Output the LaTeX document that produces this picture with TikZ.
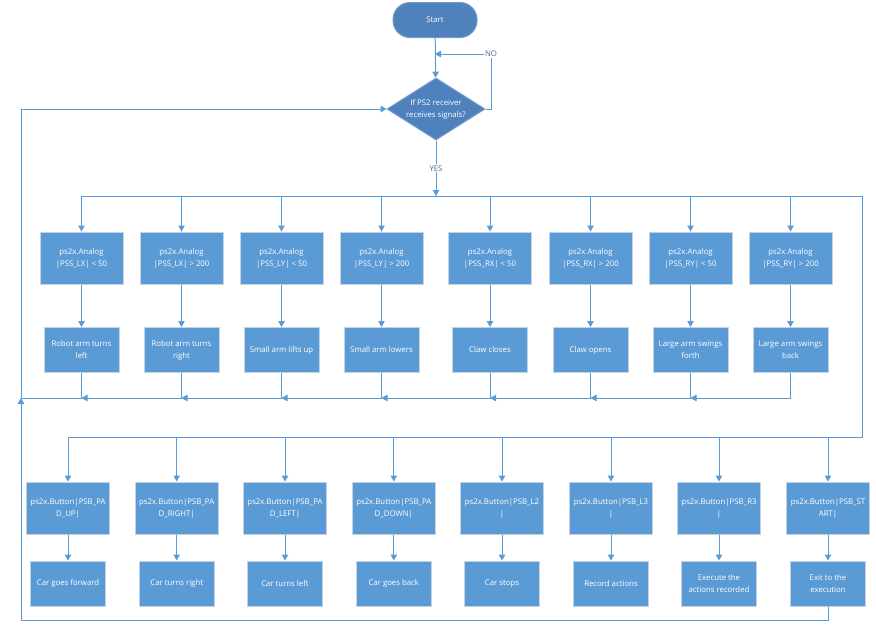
\documentclass[tikz,border=0pt]{standalone}
\usepackage{fontspec}
\setmainfont{Open Sans}
\usepackage{xcolor}
\usepackage{tikz}
\usetikzlibrary{arrows.meta,shapes.geometric,calc}
\definecolor{boxblue}{HTML}{5B9BD5}
\definecolor{darkblue}{HTML}{4F81BD}
\definecolor{boxedge}{HTML}{C3D2E4}
\definecolor{lineblue}{HTML}{5B9BD5}
\tikzset{
  box/.style={draw=boxedge,fill=boxblue,align=center,text=white,inner sep=1pt,
              font=\fontsize{7.8}{12}\selectfont,line width=1pt},
  cond/.style={box,minimum width=83pt,minimum height=52pt},   % ps2x 条件
  act/.style={box,minimum width=75pt,minimum height=45pt},    % 动作
  term/.style={box,fill=darkblue,draw=darkblue!80!white,rounded corners=17pt,
               minimum width=84pt,minimum height=35pt},
  dec/.style={box,diamond,fill=darkblue,draw=darkblue!80!white,aspect=1.58,
              inner sep=0pt,minimum width=98pt,minimum height=62pt},
  ln/.style={draw=lineblue,line width=1pt},
  ar/.style={ln,-{Triangle[length=6pt,width=6.5pt]}},
  lbl/.style={font=\fontsize{7.8}{9}\selectfont,text=lineblue!70!black,inner sep=1pt,fill=white}
}

\begin{document}
\begin{tikzpicture}[x=1pt,y=-1pt]
  \useasboundingbox (0,0) rectangle (876,632);
  \node[term] (start) at (435,20) {Start};
  \node[dec] (recv) at (436,109) {If PS2 receiver\\receives signals?};

  \coordinate (tr) at (862,196);
  \coordinate (br) at (862,437);
  \coordinate (rb) at (21,398);
  \coordinate (bl) at (21,620);
  \coordinate (noc) at (491,54);

  % 摇杆
  \node[cond] (c1) at (81.5,258)  {ps2x.Analog\\|PSS\_LX| < 50};
  \node[cond] (c2) at (181.5,258) {ps2x.Analog\\|PSS\_LX| > 200};
  \node[cond] (c3) at (281.5,258) {ps2x.Analog\\|PSS\_LY| < 50};
  \node[cond] (c4) at (381.5,258) {ps2x.Analog\\|PSS\_LY| > 200};
  \node[cond] (c5) at (490,258)   {ps2x.Analog\\|PSS\_RX| < 50};
  \node[cond] (c6) at (590.5,258) {ps2x.Analog\\|PSS\_RX| > 200};
  \node[cond] (c7) at (690.5,258) {ps2x.Analog\\|PSS\_RY| < 50};
  \node[cond] (c8) at (790.5,258) {ps2x.Analog\\|PSS\_RY| > 200};

  \node[act] (a1) at (81.5,350)  {Robot arm turns\\left};
  \node[act] (a2) at (181.5,350) {Robot arm turns\\right};
  \node[act] (a3) at (281.5,350) {Small arm lifts up};
  \node[act] (a4) at (381.5,350) {Small arm lowers};
  \node[act] (a5) at (490,350)   {Claw closes};
  \node[act] (a6) at (590.5,350) {Claw opens};
  \node[act] (a7) at (690.5,350) {Large arm swings\\forth};
  \node[act] (a8) at (790.5,350) {Large arm swings\\back};

  % 按键
  \node[cond] (b1) at (68,508)    {ps2x.Button|PSB\_PA\\D\_UP|};
  \node[cond] (b2) at (176.7,508) {ps2x.Button|PSB\_PA\\D\_RIGHT|};
  \node[cond] (b3) at (285,508)   {ps2x.Button|PSB\_PA\\D\_LEFT|};
  \node[cond] (b4) at (393.8,508) {ps2x.Button|PSB\_PA\\D\_DOWN|};
  \node[cond] (b5) at (502,508)   {ps2x.Button|PSB\_L2\\|};
  \node[cond] (b6) at (611,508)   {ps2x.Button|PSB\_L3\\|};
  \node[cond] (b7) at (719,508)   {ps2x.Button|PSB\_R3\\|};
  \node[cond] (b8) at (828,508)   {ps2x.Button|PSB\_ST\\ART|};

  \node[act] (d1) at (68,583.5)    {Car goes forward};
  \node[act] (d2) at (176.7,583.5) {Car turns right};
  \node[act] (d3) at (285,583.5)   {Car turns left};
  \node[act] (d4) at (393.8,583.5) {Car goes back};
  \node[act] (d5) at (502,583.5)   {Car stops};
  \node[act] (d6) at (611,583.5)   {Record actions};
  \node[act] (d7) at (719,583.5)   {Execute the\\actions recorded};
  \node[act] (d8) at (828,583.5)   {Exit to the\\execution};

  \draw[ar] (start) -- (recv);
  \draw[ar] (recv.east) -| (noc) -- (start.south |- noc);
  \node[lbl] (no) at (noc) {NO};
  \draw[ar] (recv) -- node[lbl]{YES} (recv.south |- tr);

  \draw[ln] (c1.north |- tr) -- (tr) -- (br) -- (b1.north |- br);
  \foreach \i in {1,...,8} {
    \draw[ar] (c\i.north |- tr) -- (c\i);
    \draw[ar] (c\i) -- (a\i);
    \draw[ar] (b\i.north |- br) -- (b\i);
    \draw[ar] (b\i) -- (d\i);
  }
  \foreach \i/\j in {2/1,3/2,4/3,5/4,6/5,7/6,8/7}
    \draw[ar] (a\i) |- (a\j.south |- rb);
  \draw[ar] (a1) |- (rb) -- (recv.west -| rb) -- (recv.west);
  \draw[ar] (d8) |- (bl) -- (rb);
\end{tikzpicture}
\end{document}
